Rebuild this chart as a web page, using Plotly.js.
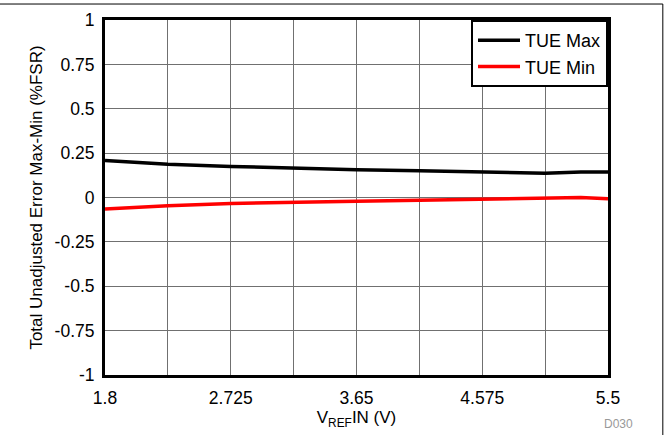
<!DOCTYPE html>
<html>
<head>
<meta charset="utf-8">
<script src="https://cdn.plot.ly/plotly-3.0.1.min.js"></script>
<style>html,body{margin:0;padding:0;background:#fff;}#chart{width:665px;height:435px;}</style>
</head>
<body>
<div id="chart"></div>
<script>
const vref = [1.8, 2.2625, 2.725, 3.1875, 3.65, 4.1125, 4.575, 5.0375, 5.3, 5.5];
const tueMax = [0.209, 0.187, 0.175, 0.164, 0.157, 0.151, 0.144, 0.136, 0.144, 0.144];
const tueMin = [-0.065, -0.047, -0.034, -0.026, -0.021, -0.015, -0.009, -0.004, 0.0, -0.007];
const xTickVals = [1.8, 2.2625, 2.725, 3.1875, 3.65, 4.1125, 4.575, 5.0375, 5.5];
const xTickText = ['1.8', '', '2.725', '', '3.65', '', '4.575', '', '5.5'];
const yTickVals = [-1, -0.75, -0.5, -0.25, 0, 0.25, 0.5, 0.75, 1];
const yTickText = ['-1', '-0.75', '-0.5', '-0.25', '0', '0.25', '0.5', '0.75', '1'];

const font = 'Liberation Sans, Arial, sans-serif';
const traces = [
  {x: vref, y: tueMax, mode: 'lines', name: 'TUE Max', line: {color: '#000000', width: 3.5}},
  {x: vref, y: tueMin, mode: 'lines', name: 'TUE Min', line: {color: '#ff0000', width: 3.5}}
];
const layout = {
  width: 665, height: 435,
  margin: {l: 105, r: 57, t: 20, b: 60},
  paper_bgcolor: '#fff', plot_bgcolor: '#fff',
  font: {family: font, size: 17, color: '#000'},
  showlegend: true,
  legend: {x: 1, y: 1, xanchor: 'right', yanchor: 'top', bgcolor: '#fff',
    bordercolor: '#000', borderwidth: 2, font: {family: font, size: 18},
    tracegroupgap: 0, itemwidth: 42},
  xaxis: {range: [1.8, 5.5], tickmode: 'array', tickvals: xTickVals, ticktext: xTickText,
    showgrid: true, gridcolor: '#707070', gridwidth: 1.2, zeroline: false,
    showline: true, linecolor: '#000', linewidth: 3, mirror: true, ticks: '',
    ticklabelstandoff: 5, tickfont: {size: 17.5}, title: {text: 'V<sub>REF</sub>IN (V)', font: {size: 17}, standoff: 0}},
  yaxis: {range: [-1, 1], tickmode: 'array', tickvals: yTickVals, ticktext: yTickText,
    showgrid: true, gridcolor: '#707070', gridwidth: 1.2, zeroline: false,
    showline: true, linecolor: '#000', linewidth: 3, mirror: true, ticks: '',
    ticklabelstandoff: 4, tickfont: {size: 17.5}, title: {text: 'Total Unadjusted Error Max-Min (%FSR)', font: {size: 17}, standoff: 8}},
  shapes: [
    {type: 'line', xref: 'paper', yref: 'paper', x0: -0.21, x1: 1.109, y0: 1.045, y1: 1.045, line: {color: '#000', width: 1}},
    {type: 'line', xref: 'paper', yref: 'paper', x0: 1.109, x1: 1.109, y0: 1.045, y1: -0.17, line: {color: '#000', width: 1}}
  ],
  annotations: [
    {text: 'D030', xref: 'paper', yref: 'paper', x: 1.02, y: -0.138, xanchor: 'center', yanchor: 'middle',
     showarrow: false, font: {family: font, size: 12, color: '#999'}}
  ]
};
Plotly.newPlot('chart', traces, layout, {displayModeBar: false, staticPlot: true});
</script>
</body>
</html>
